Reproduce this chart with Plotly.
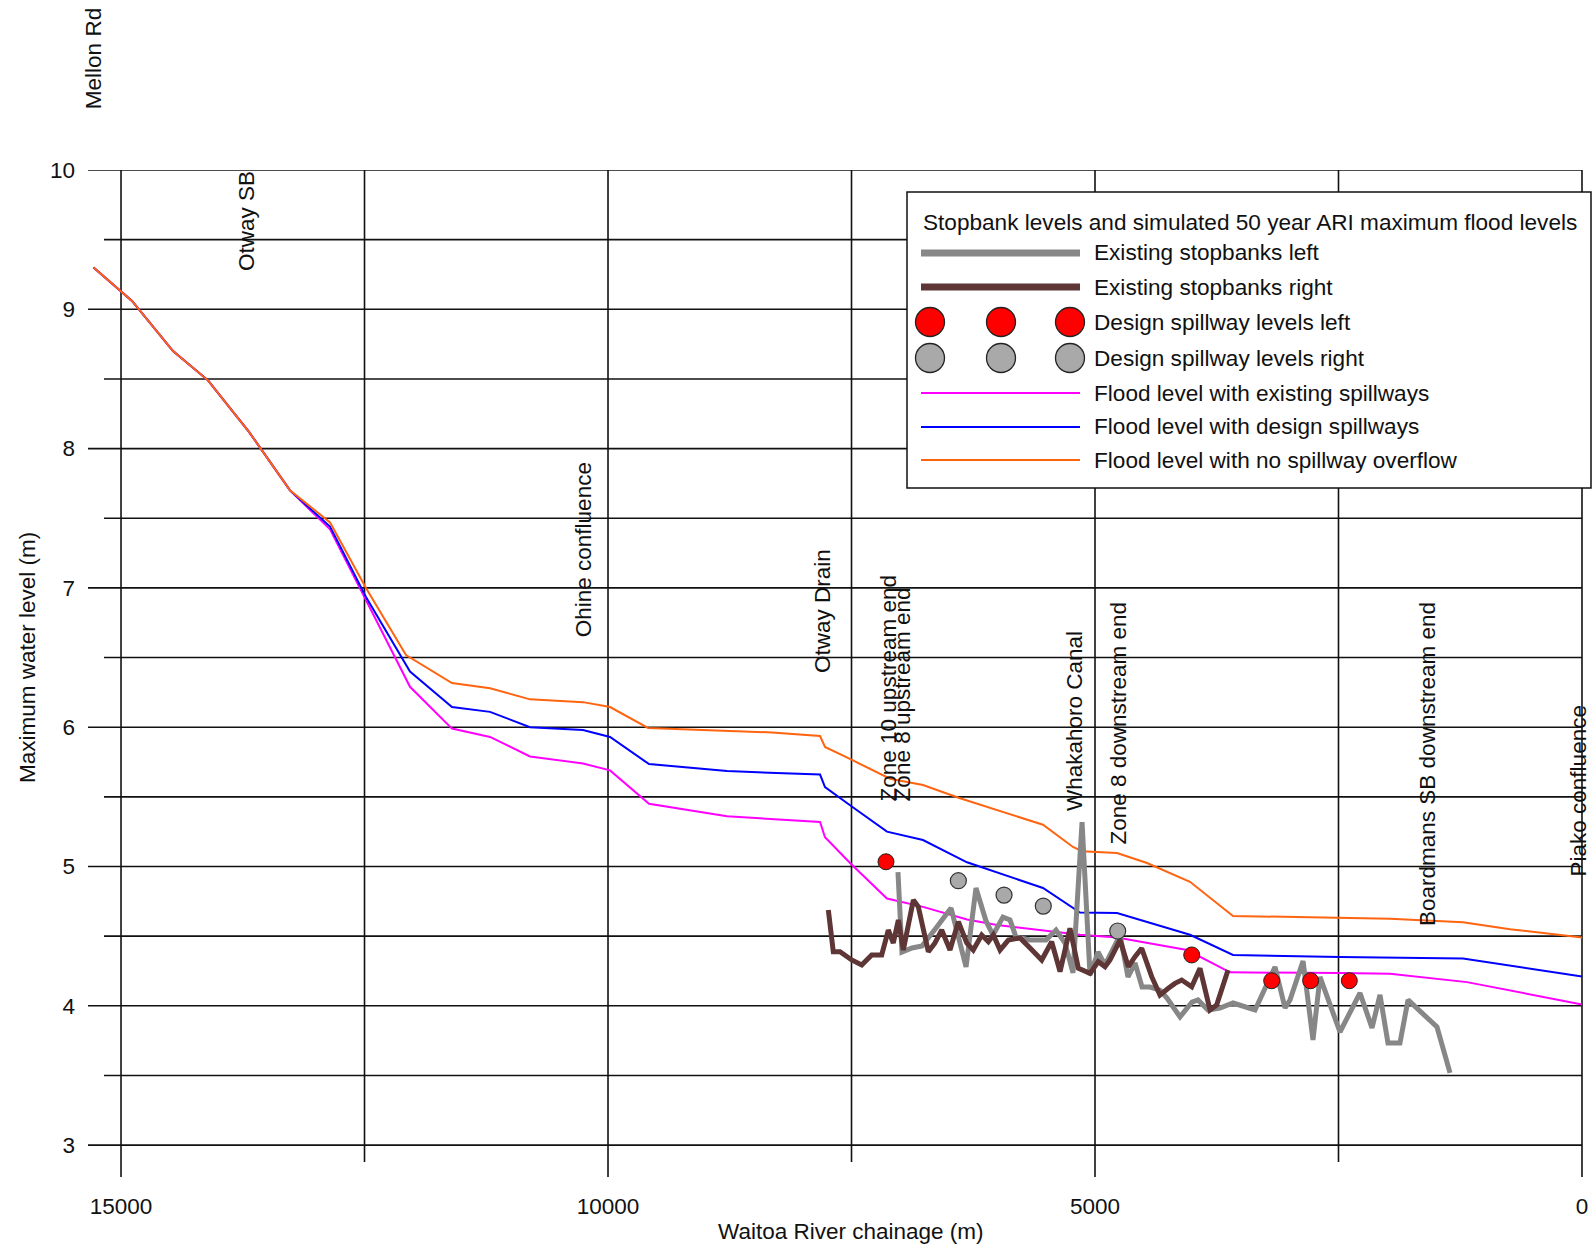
import plotly.graph_objects as go

# ---------------- data ----------------
flood_existing_x = [15282, 14887, 14466, 14107, 13686, 13265, 12854, 12485, 12033, 11602, 11211, 10801, 10257, 9979, 9579, 8778, 7823, 7772, 7515, 7136, 6766, 6314, 6006, 5154, 4774, 4055, 3614, 2485, 1971, 1181, 0]
flood_existing_y = [9.30, 9.06, 8.70, 8.49, 8.12, 7.70, 7.42, 6.91, 6.29, 5.99, 5.93, 5.79, 5.74, 5.69, 5.45, 5.36, 5.32, 5.21, 5.025, 4.77, 4.71, 4.62, 4.58, 4.51, 4.49, 4.40, 4.24, 4.235, 4.23, 4.17, 4.01]

flood_design_x = [15282, 14887, 14466, 14107, 13686, 13265, 12854, 12485, 12033, 11602, 11211, 10801, 10257, 9979, 9579, 8778, 7823, 7772, 7515, 7136, 6766, 6314, 5534, 5154, 4774, 4025, 3583, 2485, 1222, 0]
flood_design_y = [9.30, 9.06, 8.70, 8.49, 8.12, 7.70, 7.44, 6.935, 6.40, 6.145, 6.11, 6.00, 5.98, 5.93, 5.735, 5.685, 5.66, 5.57, 5.44, 5.25, 5.19, 5.03, 4.846, 4.67, 4.666, 4.51, 4.365, 4.35, 4.34, 4.21]

flood_none_x = [15282, 14887, 14466, 14107, 13686, 13265, 12854, 12485, 12074, 11602, 11211, 10801, 10257, 9979, 9589, 8943, 8316, 7823, 7772, 7495, 7105, 6766, 6386, 5534, 5226, 5133, 4774, 4466, 4025, 3583, 2485, 1971, 1222, 739, 0]
flood_none_y = [9.30, 9.06, 8.70, 8.49, 8.12, 7.70, 7.47, 7.00, 6.518, 6.317, 6.28, 6.20, 6.18, 6.145, 5.995, 5.976, 5.962, 5.937, 5.858, 5.765, 5.63, 5.585, 5.49, 5.30, 5.14, 5.11, 5.097, 5.025, 4.89, 4.645, 4.63, 4.625, 4.60, 4.55, 4.49]

stopbank_left_x = [7023, 6982, 6879, 6776, 6632, 6478, 6324, 6222, 6119, 6047, 5945, 5873, 5811, 5667, 5503, 5400, 5308, 5226, 5133, 5051, 4969, 4897, 4743, 4661, 4589, 4517, 4435, 4333, 4261, 4127, 4004, 3943, 3840, 3717, 3583, 3357, 3152, 3049, 2998, 2864, 2762, 2690, 2485, 2279, 2156, 2074, 1992, 1869, 1786, 1489, 1355]
stopbank_left_y = [4.960, 4.386, 4.415, 4.429, 4.559, 4.702, 4.279, 4.846, 4.609, 4.508, 4.637, 4.616, 4.494, 4.472, 4.472, 4.544, 4.451, 4.236, 5.319, 4.221, 4.386, 4.293, 4.508, 4.207, 4.307, 4.135, 4.135, 4.113, 4.056, 3.920, 4.027, 4.042, 3.970, 3.984, 4.020, 3.970, 4.279, 3.984, 4.042, 4.322, 3.755, 4.207, 3.812, 4.092, 3.841, 4.078, 3.733, 3.733, 4.042, 3.848, 3.518]

stopbank_right_x = [7738, 7687, 7618, 7498, 7395, 7293, 7190, 7122, 7071, 7019, 6968, 6865, 6814, 6711, 6643, 6574, 6489, 6403, 6317, 6250, 6163, 6095, 6044, 5975, 5890, 5770, 5667, 5547, 5445, 5359, 5257, 5171, 5051, 4966, 4897, 4846, 4743, 4658, 4589, 4521, 4418, 4333, 4247, 4179, 4110, 4007, 3922, 3819, 3751, 3634]
stopbank_right_y = [4.688, 4.388, 4.388, 4.329, 4.293, 4.365, 4.365, 4.544, 4.451, 4.616, 4.400, 4.759, 4.711, 4.388, 4.451, 4.544, 4.400, 4.604, 4.451, 4.400, 4.508, 4.460, 4.508, 4.400, 4.472, 4.487, 4.415, 4.329, 4.460, 4.245, 4.556, 4.270, 4.233, 4.317, 4.281, 4.329, 4.472, 4.281, 4.353, 4.413, 4.209, 4.078, 4.126, 4.161, 4.185, 4.137, 4.269, 3.970, 4.006, 4.257]

spill_left_x = [7146, 4007, 3186, 2786, 2389]
spill_left_y = [5.034, 4.365, 4.18, 4.18, 4.18]

spill_right_x = [6403, 5934, 5531, 4767]
spill_right_y = [4.898, 4.795, 4.716, 4.537]

landmark_names = ["Mellon Rd", "Otway SB", "Ohine confluence", "Otway Drain", "Zone 10 upstream end",
                  "Zone 8 upstream end", "Whakahoro Canal", "Zone 8 downstream end",
                  "Boardmans SB downstream end", "Piako confluence"]
landmark_x = [15282, 13706, 10250, 7793, 7125, 6982, 5216, 4754, 1581, 0]
landmark_label_y = [10.43, 9.268, 6.64, 6.382, 5.46, 5.46, 5.391, 5.154, 4.566, 4.925]

x_tick_vals = [15000, 10000, 5000, 0]
x_tick_text = ["15000", "10000", "5000", "0"]
x_minor_vals = [12500, 7500, 2500]
y_tick_vals = [3, 4, 5, 6, 7, 8, 9, 10]
y_half_vals = [3.5, 4.5, 5.5, 6.5, 7.5, 8.5, 9.5]

legend_title = "Stopbank levels and simulated 50 year ARI maximum flood levels"
legend_labels = ["Existing stopbanks left", "Existing stopbanks right", "Design spillway levels left",
                 "Design spillway levels right", "Flood level with existing spillways",
                 "Flood level with design spillways", "Flood level with no spillway overflow"]

# ---------------- layout geometry ----------------
W, H = 1593, 1246
PL, PR, PT, PB = 88, 1593, 170, 1177
X_RANGE = [15339, -113]
Y_RANGE = [2.771, 10]
FONT = "Liberation Sans, Arial, sans-serif"
FS = 22.5
FS_LEG = 22.6

def pxx(px):
    return (px - PL) / (PR - PL)

def pxy(py):
    return (PB - py) / (PB - PT)

def dy2paper(v):
    return (v - Y_RANGE[0]) / (Y_RANGE[1] - Y_RANGE[0])

fig = go.Figure()

# flood levels
fig.add_trace(go.Scatter(x=flood_existing_x, y=flood_existing_y, mode="lines",
                         line=dict(color="#ff00ff", width=2), showlegend=False))
fig.add_trace(go.Scatter(x=flood_design_x, y=flood_design_y, mode="lines",
                         line=dict(color="#0000ff", width=2), showlegend=False))
fig.add_trace(go.Scatter(x=flood_none_x, y=flood_none_y, mode="lines",
                         line=dict(color="#ff6410", width=2), showlegend=False))
# stopbanks
fig.add_trace(go.Scatter(x=stopbank_left_x, y=stopbank_left_y, mode="lines",
                         line=dict(color="#878787", width=5), showlegend=False))
fig.add_trace(go.Scatter(x=stopbank_right_x, y=stopbank_right_y, mode="lines",
                         line=dict(color="#5e3636", width=5), showlegend=False))
# spillways
fig.add_trace(go.Scatter(x=spill_left_x, y=spill_left_y, mode="markers",
                         marker=dict(color="#ff0000", size=16, line=dict(color="#222", width=1)),
                         showlegend=False))
fig.add_trace(go.Scatter(x=spill_right_x, y=spill_right_y, mode="markers",
                         marker=dict(color="#a9a9a9", size=16, line=dict(color="#333", width=1.2)),
                         showlegend=False))

shapes = []
GRID = dict(color="#111111", width=1.6)
x_left_major = X_RANGE[0]
x_left_half = (1582 - 104) / 0.0974
for v in y_tick_vals:
    shapes.append(dict(type="line", xref="x", yref="y", x0=x_left_major, x1=0, y0=v, y1=v,
                       line=GRID, layer="below"))
for v in y_half_vals:
    shapes.append(dict(type="line", xref="x", yref="y", x0=x_left_half, x1=0, y0=v, y1=v,
                       line=GRID, layer="below"))
for c in x_tick_vals:
    shapes.append(dict(type="line", xref="x", yref="y", x0=c, x1=c, y0=Y_RANGE[0], y1=10,
                       line=GRID, layer="below"))
y_minor_bottom = 10 - (1162 - 170) / 139.3
for c in x_minor_vals:
    shapes.append(dict(type="line", xref="x", yref="y", x0=c, x1=c, y0=y_minor_bottom, y1=10,
                       line=GRID, layer="below"))

# legend box (drawn manually)
LB_L, LB_T, LB_R, LB_B = 907, 192, 1591, 488
shapes.append(dict(type="rect", xref="paper", yref="paper", x0=pxx(LB_L), x1=pxx(LB_R),
                   y0=pxy(LB_B), y1=pxy(LB_T), fillcolor="white",
                   line=dict(color="#111", width=1.5), layer="above"))
row_y = [253, 287, 322, 358, 393, 427, 460]
sym_x0, sym_x1 = 921, 1080
line_styles = {0: ("#878787", 7), 1: ("#5e3636", 7), 4: ("#ff00ff", 2), 5: ("#0000ff", 2), 6: ("#ff6410", 2)}
for i, (col, wd) in line_styles.items():
    shapes.append(dict(type="line", xref="paper", yref="paper", x0=pxx(sym_x0), x1=pxx(sym_x1),
                       y0=pxy(row_y[i]), y1=pxy(row_y[i]), line=dict(color=col, width=wd), layer="above"))
circ_r = 14.5
for i, fill in [(2, "#ff0000"), (3, "#a9a9a9")]:
    for cx in [930, 1001, 1070]:
        shapes.append(dict(type="circle", xref="paper", yref="paper",
                           x0=pxx(cx - circ_r), x1=pxx(cx + circ_r),
                           y0=pxy(row_y[i] + circ_r), y1=pxy(row_y[i] - circ_r),
                           fillcolor=fill, line=dict(color="#222", width=1.3), layer="above"))

annotations = []
for name, cx, ly in zip(landmark_names, landmark_x, landmark_label_y):
    shift = -4 if cx == 0 else 0
    annotations.append(dict(text=name, x=cx, xref="x", y=dy2paper(ly), yref="paper",
                            textangle=-90, xanchor="center", yanchor="bottom", showarrow=False,
                            xshift=shift, borderpad=0,
                            font=dict(family=FONT, size=FS, color="#111")))
annotations.append(dict(text=legend_title, x=pxx(921), y=pxy(222), xref="paper", yref="paper",
                        xanchor="left", yanchor="middle", showarrow=False,
                        font=dict(family=FONT, size=FS_LEG, color="#111")))
for lab, ry in zip(legend_labels, row_y):
    annotations.append(dict(text=lab, x=pxx(1092), y=pxy(ry), xref="paper", yref="paper",
                            xanchor="left", yanchor="middle", showarrow=False,
                            font=dict(family=FONT, size=FS_LEG, color="#111")))
annotations.append(dict(text="Waitoa River chainage (m)", x=pxx(851), y=pxy(1231), xref="paper", yref="paper",
                        xanchor="center", yanchor="middle", showarrow=False,
                        font=dict(family=FONT, size=FS, color="#111")))
annotations.append(dict(text="Maximum water level (m)", x=pxx(27), y=pxy(658), xref="paper", yref="paper",
                        textangle=-90, xanchor="center", yanchor="middle", showarrow=False,
                        font=dict(family=FONT, size=FS, color="#111")))

fig.update_layout(
    width=W, height=H,
    margin=dict(l=PL, r=W - PR, t=PT, b=H - PB, pad=0),
    paper_bgcolor="white", plot_bgcolor="white",
    shapes=shapes, annotations=annotations,
    font=dict(family=FONT, size=FS, color="#111"),
    xaxis=dict(range=X_RANGE, showgrid=False, zeroline=False, showline=False,
               tickmode="array", tickvals=x_tick_vals, ticktext=x_tick_text, ticks="",
               ticklabelstandoff=13, tickfont=dict(family=FONT, size=FS, color="#111")),
    yaxis=dict(range=Y_RANGE, showgrid=False, zeroline=False, showline=False,
               tickmode="array", tickvals=y_tick_vals, ticks="",
               ticklabelstandoff=12, tickfont=dict(family=FONT, size=FS, color="#111")),
)

fig.write_html("out.html")
